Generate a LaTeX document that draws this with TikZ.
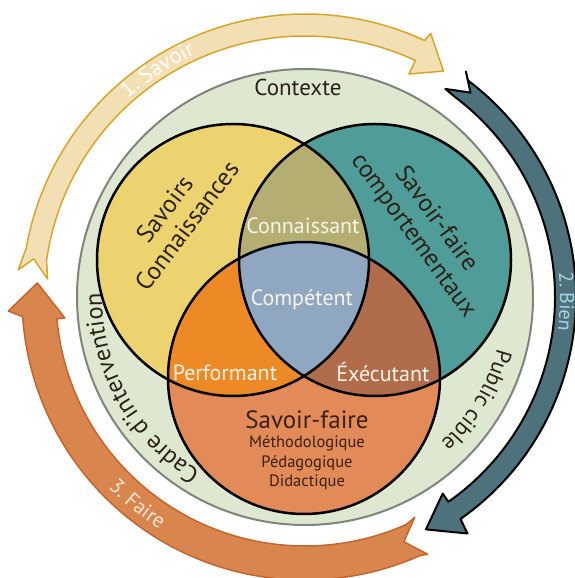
\documentclass[tikz,border=0pt]{standalone}
\usepackage{fontspec}
\setmainfont{PT Sans}
\usetikzlibrary{decorations.text}

\definecolor{ctxgreen}{HTML}{DEE8D0}
\definecolor{ctxline}{HTML}{7F847C}
\definecolor{savyellow}{HTML}{ECD36F}
\definecolor{sfcteal}{HTML}{4F9C98}
\definecolor{sfmorange}{HTML}{E28B58}
\definecolor{connolive}{HTML}{B4AE72}
\definecolor{perforange}{HTML}{EE8A25}
\definecolor{execbrown}{HTML}{B16D4B}
\definecolor{compblue}{HTML}{8FA7C0}
\definecolor{inkdark}{HTML}{2B2216}
\definecolor{inkbrown}{HTML}{3A2113}
\definecolor{zonewhite}{HTML}{F8F3E8}
\definecolor{savfill}{HTML}{F3DFB4}
\definecolor{savline}{HTML}{D6A52A}
\definecolor{bienfill}{HTML}{4E727B}
\definecolor{bientext}{HTML}{A6D3E6}
\definecolor{fairefill}{HTML}{D8864E}
\definecolor{faireline}{HTML}{C4652E}
\definecolor{fairetext}{HTML}{FBE6D6}

\begin{document}
\begin{tikzpicture}[x=1pt, y=1pt, line cap=round, line join=round,
    venn/.style={draw=black, line width=2.5pt},
    zonetext/.style={text=zonewhite, font=\fontsize{22}{22}\selectfont},
    circtext/.style={text=inkdark, align=center, font=\fontsize{25}{28}\selectfont},
    arctext/.style={decorate, decoration={text along path, text align=center, #1}}]

\useasboundingbox (-305,-281) rectangle (269,297);

% --- Coordinates ---
\coordinate (O) at (0,0);
\coordinate (Y) at (-72,37);
\coordinate (T) at (70,37);
\coordinate (F) at (-1,-81);

% --- Arrows ---
% 1. Savoir
\filldraw[fill=savfill, draw=savline, line width=1.5pt]
  (174.6:288) -- (172:274) -- (176:258) -- (172:261)
  arc[start angle=172, end angle=65, radius=261]
  -- (65:246) -- (58.5:265) -- (64.5:292) -- (65:283)
  arc[start angle=65, end angle=170, radius=283] -- cycle;
% 2. Bien
\filldraw[fill=bienfill, draw=black, line width=2pt]
  (54.5:277) -- (51:263) -- (56:251) -- (53:250)
  arc[start angle=53, end angle=-55, radius=250]
  -- (-55:240) -- (-62.5:262) -- (-55.5:287) -- (-55:271)
  arc[start angle=-55, end angle=53, radius=271] -- cycle;
% 3. Faire
\filldraw[fill=fairefill, draw=faireline, line width=1.5pt]
  (-64.5:285) -- (-68:264) -- (-63.5:246) -- (-66:249)
  arc[start angle=-66, end angle=-175, radius=249]
  -- (-175:241) -- (-183:268) -- (-177.3:297) -- (-176:283)
  arc[start angle=-176, end angle=-66, radius=283] -- cycle;

% Arrow labels
\path[arctext={text color=white, text={|\fontsize{22}{22}\selectfont|1. Savoir}}]
  (163:266) arc[start angle=163, end angle=83, radius=266];
\path[arctext={text color=bientext, text={|\fontsize{20}{20}\selectfont|2. Bien}}]
  (39:255) arc[start angle=39, end angle=-41, radius=255];
\path[arctext={text color=fairetext, text={|\fontsize{21}{21}\selectfont|3. Faire}}]
  (191:274) arc[start angle=191, end angle=271, radius=274];

% --- Context ring ---
\filldraw[fill=ctxgreen, draw=ctxline, line width=2pt] (O) circle (228pt);
\node[text=inkdark, font=\fontsize{23}{23}\selectfont] (contexte) at (-7,210) {Contexte};
\path[arctext={text color=inkdark, text={|\fontsize{24.5}{24.5}\selectfont|Cadre d'intervention}}]
  (266:203) arc[start angle=266, end angle=152, radius=203];
\path[arctext={text color=inkdark, text={|\fontsize{22.5}{22.5}\selectfont|Public cible}}]
  (12:199) arc[start angle=12, end angle=-74, radius=199];

% --- Venn circles ---
\fill[savyellow] (Y) circle (136pt);
\fill[sfcteal] (T) circle (136pt);
\fill[sfmorange] (F) circle (136pt);
\begin{scope}
  \clip (Y) circle (136pt);
  \fill[connolive] (T) circle (136pt);
  \fill[perforange] (F) circle (136pt);
\end{scope}
\begin{scope}
  \clip (T) circle (136pt);
  \fill[execbrown] (F) circle (136pt);
\end{scope}
\begin{scope}
  \clip (Y) circle (136pt);
  \clip (T) circle (136pt);
  \fill[compblue] (F) circle (136pt);
\end{scope}
\draw[venn] (Y) circle (136pt);
\draw[venn] (T) circle (136pt);
\draw[venn] (F) circle (136pt);

% --- Labels ---
\node[circtext, rotate=53] (savoirs) at (-129.5,79.5) {Savoirs\\Connaissances};
\node[circtext, rotate=-54] (comport) at (119.5,69.5) {Savoir-faire\\comportementaux};
\node[zonetext] (connaissant) at (-2,71) {Connaissant};
\node[zonetext] (competent) at (-3,-3) {Compétent};
\node[zonetext] (performant) at (-80,-76) {Performant};
\node[zonetext] (executant) at (78,-75) {Éxécutant};
\node[circtext, text=inkbrown] (savoirfaire) at (2,-123) {Savoir-faire};
\node[circtext, text=inkbrown, font=\fontsize{16.5}{19.5}\selectfont] (methodes) at (2,-166)
  {Méthodologique\\Pédagogique\\Didactique};

\end{tikzpicture}
\end{document}
